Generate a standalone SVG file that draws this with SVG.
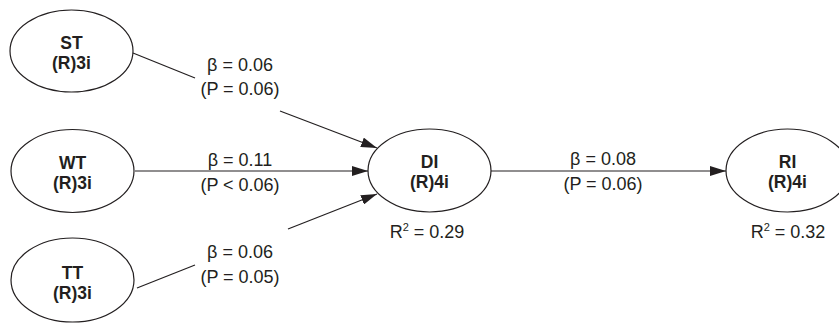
<svg xmlns="http://www.w3.org/2000/svg" width="839" height="325" viewBox="0 0 839 325">
<defs>
<style>
.node{fill:#fff;stroke:#231f20;stroke-width:1.2}
.nt{font-family:"Liberation Sans",Arial,sans-serif;font-weight:bold;font-size:17.5px;fill:#231f20;text-anchor:middle}
.lb{font-family:"Liberation Sans",Arial,sans-serif;font-size:18px;fill:#231f20;text-anchor:middle}
.edge{stroke:#231f20;stroke-width:1.2;fill:none}
</style>
<marker id="ah" viewBox="0 0 16 10" refX="16" refY="5" markerWidth="16" markerHeight="10" markerUnits="userSpaceOnUse" orient="auto">
<path d="M0,0 L16,5 L0,10 Z" fill="#231f20"/>
</marker>
</defs>
<rect width="839" height="325" fill="#fff"/>
<g id="connectors">
<path class="edge" d="M133,53 L195,78"/>
<path class="edge" d="M280,111 L377,148" marker-end="url(#ah)"/>
<path class="edge" d="M135,171 L368,171" marker-end="url(#ah)"/>
<path class="edge" d="M137,288 L195,265"/>
<path class="edge" d="M288,229 L377,194" marker-end="url(#ah)"/>
<path class="edge" d="M491,171 L726,171" marker-end="url(#ah)"/>
</g>
<g id="ST">
<ellipse class="node" cx="71.5" cy="51" rx="61.5" ry="41"/>
<text class="nt" x="71.5" y="49">ST</text>
<text class="nt" x="71.5" y="69">(R)3i</text>
</g>
<g id="WT">
<ellipse class="node" cx="72.5" cy="171" rx="61.5" ry="41.5"/>
<text class="nt" x="72.5" y="169">WT</text>
<text class="nt" x="72.5" y="189">(R)3i</text>
</g>
<g id="TT">
<ellipse class="node" cx="72.5" cy="280" rx="61.5" ry="42"/>
<text class="nt" x="72.5" y="279">TT</text>
<text class="nt" x="72.5" y="299">(R)3i</text>
</g>
<g id="DI">
<ellipse class="node" cx="429.5" cy="170.5" rx="61.5" ry="41.5"/>
<text class="nt" x="429.5" y="168">DI</text>
<text class="nt" x="429.5" y="188">(R)4i</text>
</g>
<g id="RI">
<ellipse class="node" cx="787.5" cy="170.5" rx="61.5" ry="41.5"/>
<text class="nt" x="787.5" y="168">RI</text>
<text class="nt" x="787.5" y="188">(R)4i</text>
</g>
<g id="labels">
<text class="lb" x="240" y="71">β = 0.06</text>
<text class="lb" x="240" y="95">(P = 0.06)</text>
<text class="lb" x="240" y="166">β = 0.11</text>
<text class="lb" x="240" y="191">(P &lt; 0.06)</text>
<text class="lb" x="240" y="258">β = 0.06</text>
<text class="lb" x="240" y="283">(P = 0.05)</text>
<text class="lb" x="603" y="165">β = 0.08</text>
<text class="lb" x="603" y="190">(P = 0.06)</text>
<text class="lb" x="427" y="238">R<tspan font-size="11" dy="-7">2</tspan><tspan dy="7"> = 0.29</tspan></text>
<text class="lb" x="788" y="238">R<tspan font-size="11" dy="-7">2</tspan><tspan dy="7"> = 0.32</tspan></text>
</g>
</svg>
